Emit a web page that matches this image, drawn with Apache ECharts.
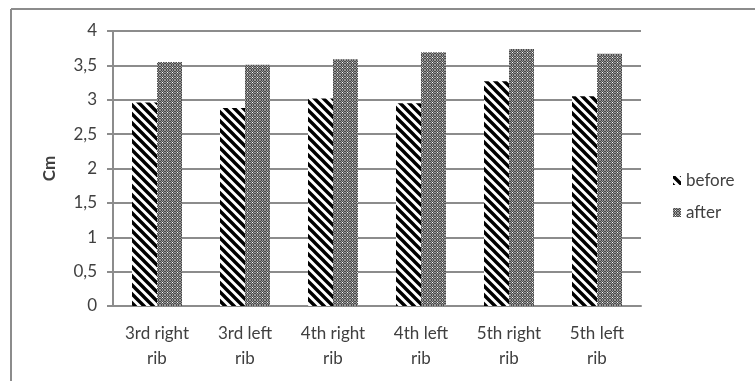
<!DOCTYPE html>
<html>
<head>
<meta charset="utf-8">
<script src="https://cdn.jsdelivr.net/npm/echarts@6/dist/echarts.min.js"></script>
<style>
  html, body { margin: 0; padding: 0; background: #fff; }
  #chart { width: 755px; height: 381px; }
</style>
</head>
<body>
<div id="chart"></div>
<script>
// Rib measurements (cm) before and after
const categories = ['3rd right\nrib', '3rd left\nrib', '4th right\nrib', '4th left\nrib', '5th right\nrib', '5th left\nrib'];
const beforeValues = [2.96, 2.88, 3.02, 2.95, 3.27, 3.05];
const afterValues = [3.55, 3.51, 3.59, 3.69, 3.74, 3.67];
const yTicks = [0, 0.5, 1, 1.5, 2, 2.5, 3, 3.5, 4];

// Black diagonal stripes on white
function stripePattern() {
  const s = 9;
  const c = document.createElement('canvas');
  c.width = s; c.height = s;
  const g = c.getContext('2d');
  g.fillStyle = '#fff';
  g.fillRect(0, 0, s, s);
  g.strokeStyle = '#000';
  g.lineWidth = 3.4;
  g.beginPath();
  g.moveTo(-2, -2); g.lineTo(s + 2, s + 2);
  g.moveTo(-2, s - 2); g.lineTo(2, s + 2);
  g.moveTo(s - 2, -2); g.lineTo(s + 2, 2);
  g.stroke();
  return c;
}

// Grey dotted screen
function dotPattern() {
  const s = 5;
  const c = document.createElement('canvas');
  c.width = s; c.height = s;
  const g = c.getContext('2d');
  g.fillStyle = '#999999';
  g.fillRect(0, 0, s, s);
  g.fillStyle = '#4a4a4a';
  for (let y = 0; y < s; y++) {
    for (let x = 0; x < s; x++) {
      if ((x + y) % 2 === 1) g.fillRect(x, y, 1, 1);
    }
  }
  g.fillStyle = '#ffffff';
  g.fillRect(2, 2, 1, 1);
  return c;
}

const stripeFill = { image: stripePattern(), repeat: 'repeat' };
const dotFill = { image: dotPattern(), repeat: 'repeat' };

const textColor = '#404040';
const fontFamily = 'Lato, "Open Sans", sans-serif';

const chart = echarts.init(document.getElementById('chart'), null, { renderer: 'canvas' });
chart.setOption({
  animation: false,
  backgroundColor: '#fff',
  textStyle: { fontFamily: fontFamily },
  grid: { left: 113, right: 114, top: 31, bottom: 75 },
  legend: {
    orient: 'vertical',
    left: 668,
    top: 167,
    itemWidth: 8,
    itemHeight: 9,
    itemGap: 15,
    icon: 'rect',
    textStyle: { color: textColor, fontSize: 17, fontFamily: fontFamily },
    data: ['before', 'after']
  },
  xAxis: {
    type: 'category',
    data: categories,
    axisLine: { lineStyle: { color: '#8c8c8c', width: 2 } },
    axisTick: { show: false },
    axisLabel: { color: textColor, fontSize: 17, lineHeight: 25, margin: 15, interval: 0 }
  },
  yAxis: {
    type: 'value',
    min: yTicks[0],
    max: yTicks[yTicks.length - 1],
    interval: 0.5,
    name: 'Cm',
    nameLocation: 'middle',
    nameGap: 55,
    nameRotate: 90,
    nameTextStyle: { color: textColor, fontSize: 17, fontWeight: 'bold' },
    axisLine: { show: true, lineStyle: { color: '#8c8c8c', width: 2 } },
    axisTick: { show: true, inside: false, length: 6, lineStyle: { color: '#8c8c8c', width: 2 } },
    splitLine: { lineStyle: { color: '#8c8c8c', width: 2 } },
    axisLabel: {
      color: textColor, fontSize: 17, margin: 16,
      formatter: v => String(v).replace('.', ',')
    }
  },
  series: [
    {
      name: 'before',
      type: 'bar',
      data: beforeValues,
      barWidth: 25,
      barGap: '0%',
      itemStyle: { color: stripeFill }
    },
    {
      name: 'after',
      type: 'bar',
      data: afterValues,
      barWidth: 25,
      itemStyle: { color: dotFill }
    }
  ],
  graphic: [
    { type: 'line', shape: { x1: 11, y1: 9, x2: 755, y2: 9 }, style: { stroke: '#8c8c8c', lineWidth: 2 } },
    { type: 'line', shape: { x1: 11, y1: 9, x2: 11, y2: 381 }, style: { stroke: '#8c8c8c', lineWidth: 2 } }
  ]
});
</script>
</body>
</html>
